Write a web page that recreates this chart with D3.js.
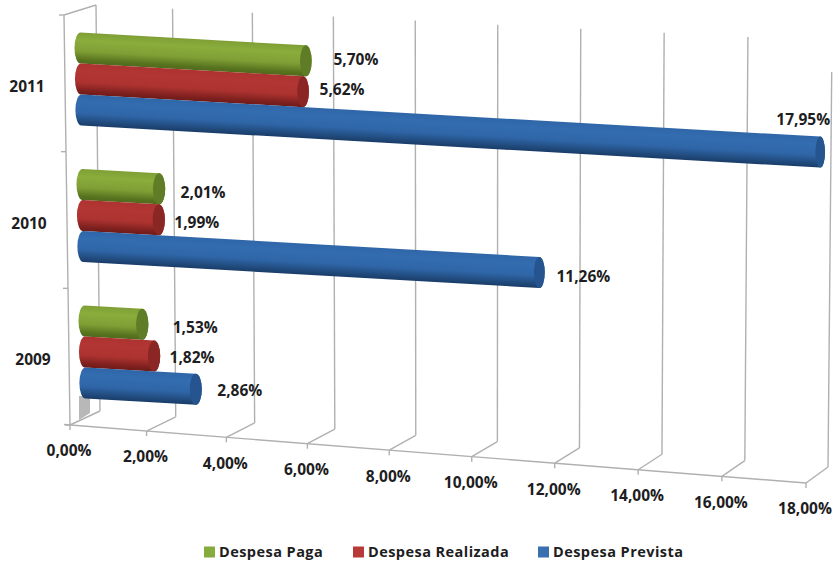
<!DOCTYPE html>
<html>
<head>
<meta charset="utf-8">
<script src="https://cdn.jsdelivr.net/npm/d3@7/dist/d3.min.js"></script>
<style>
html,body{margin:0;padding:0;background:#fff;}
svg{display:block;}
text{font-family:"Open Sans","Noto Sans",sans-serif;font-weight:700;fill:#1d1d22;}
</style>
</head>
<body>
<svg id="chart" width="833" height="562"></svg>
<script>
// Budget execution by year, as a pseudo-3D horizontal cylinder chart
const years = ["2011", "2010", "2009"];
const seriesNames = ["Despesa Paga", "Despesa Realizada", "Despesa Prevista"];
const despesaPaga = [5.70, 2.01, 1.53];
const despesaRealizada = [5.62, 1.99, 1.82];
const despesaPrevista = [17.95, 11.26, 2.86];
const axisTicks = [0, 2, 4, 6, 8, 10, 12, 14, 16, 18];

const seriesValues = [despesaPaga, despesaRealizada, despesaPrevista];
const brTicks = d3.format(".2f");
const pct = v => brTicks(v).replace(".", ",") + "%";

// Cylinder shading per series: light top, saturated body, dark underside, end cap
const palette = [
  {main: "#7f9f35", light: "#8aad3c", dark: "#58731f", edge: "#4f6a1c", cap: "#5f7c27", swatch: "#86ab3e"},
  {main: "#ad3330", light: "#b23634", dark: "#7d201e", edge: "#701a18", cap: "#8a2725", swatch: "#b83a38"},
  {main: "#2f66a8", light: "#336db0", dark: "#20497a", edge: "#193c68", cap: "#25548e", swatch: "#3a6fb0"}
];

const svg = d3.select("#chart");
const defs = svg.append("defs");

// The chart box is a slanted floor and wall; slight perspective widens the right side
const frontX = d3.scalePow().exponent(1.03).domain([0, 18]).range([70, 806]);
const backX = d3.scalePow().exponent(1.03).domain([0, 18]).range([100, 828]);
const topX = d3.scalePow().exponent(1.03).domain([0, 18]).range([96, 832]);
const frontY = d3.scaleLinear().domain([70, 806]).range([425, 483]);
const backY = d3.scaleLinear().domain([100, 828]).range([411, 467]);
const topY = d3.scaleLinear().domain([96, 832]).range([5, 41]);

// Bars run along a plane midway through the depth of the box
const barLength = d3.scalePow().exponent(1.035).domain([0, 18]).range([0, 741]);
const rowY = d3.scalePoint().domain(years).range([79, 352]);
const seriesOffset = d3.scalePoint().domain(seriesNames).range([-31, 31]);
const startX = d3.scaleLinear().domain([15, 425]).range([80, 86]);
const barSlope = 0.057;
const barRadius = 15.5;
const capRadius = d3.scaleLinear().domain([80, 820]).range([6.3, 4.8]);

const grid = svg.append("g").attr("fill", "none").attr("stroke", "#b0b0b0").attr("stroke-width", 1.4);

// Back gridlines and their floor segments
axisTicks.forEach(v => {
  const bx = backX(v), by = backY(bx);
  let tx = topX(v), ty = topY(tx);
  if (v === 18) { // the last gridline stops short near the top edge of the frame
    const t = (by - 72) / (by - ty);
    tx = bx + (tx - bx) * t;
    ty = 72;
  }
  grid.append("line").attr("x1", bx).attr("y1", by).attr("x2", tx).attr("y2", ty);
  const fx = frontX(v), fy = frontY(fx);
  grid.append("line").attr("x1", fx).attr("y1", fy).attr("x2", bx).attr("y2", by);
});

// Front floor edge
grid.append("line")
  .attr("x1", frontX(0) - 6).attr("y1", frontY(frontX(0)) - 0.5)
  .attr("x2", frontX(18)).attr("y2", frontY(frontX(18)));

// Left wall: front edge, its top corner and category tick marks
const wallY = d3.scaleLinear().domain([0, 3]).range([15, 425]);
const wallX = d3.scaleLinear().domain([15, 425]).range([64, 70]);
grid.append("line").attr("x1", wallX(15)).attr("y1", 15).attr("x2", wallX(425)).attr("y2", 425);
grid.append("line").attr("x1", wallX(15)).attr("y1", 15).attr("x2", topX(0)).attr("y2", topY(topX(0)));
d3.range(4).forEach(i => {
  const y = wallY(i);
  grid.append("line").attr("x1", wallX(y) - 5).attr("y1", y).attr("x2", wallX(y)).attr("y2", y);
});

// Grey sliver at the foot of the left wall
svg.append("path")
  .attr("d", "M79,396L90,396L90,413L79,420Z")
  .attr("fill", "#b8b8b8");

// Value axis: D3 builds the ticks, each one then follows the slanted floor edge
const axisGroup = svg.append("g");
axisGroup.call(d3.axisBottom(frontX).tickValues(axisTicks).tickFormat(pct).tickSize(5))
  .attr("font-size", null).attr("font-family", null);
axisGroup.select(".domain").remove();
axisGroup.selectAll(".tick")
  .attr("transform", d => `translate(${frontX(d)},${frontY(frontX(d))})`);
axisGroup.selectAll(".tick line").attr("stroke", "#b0b0b0").attr("stroke-width", 1.4);
axisGroup.selectAll(".tick text")
  .attr("x", -1).attr("y", 26).attr("dy", "0.35em")
  .style("font-size", "15.5px").style("fill", "#1d1d22");

// Category labels
svg.append("g").selectAll("text").data(years).join("text")
  .attr("x", (d, i) => 27 + [0, 2, 6][i])
  .attr("y", d => rowY(d) + 8)
  .attr("dy", "0.35em")
  .attr("text-anchor", "middle")
  .style("font-size", "15.5px")
  .text(d => d);

// Flatten to one record per bar, drawn top to bottom so lower cylinders overlap upper ones
const bars = [];
years.forEach((year, r) => {
  seriesNames.forEach((name, s) => {
    const y0 = rowY(year) + seriesOffset(name);
    const x0 = startX(y0);
    const value = seriesValues[s][r];
    const x1 = x0 + barLength(value);
    bars.push({year, name, s, value, x0, y0, x1, y1: y0 + (x1 - x0) * barSlope, id: `bar-${r}-${s}`});
  });
});

// Gradients run across the cylinder, perpendicular to its slope
const gradients = defs.selectAll("linearGradient").data(bars).join("linearGradient")
  .attr("id", d => d.id)
  .attr("gradientUnits", "userSpaceOnUse")
  .attr("x1", d => (d.x0 + d.x1) / 2 + barRadius * barSlope)
  .attr("y1", d => (d.y0 + d.y1) / 2 - barRadius)
  .attr("x2", d => (d.x0 + d.x1) / 2 - barRadius * barSlope)
  .attr("y2", d => (d.y0 + d.y1) / 2 + barRadius);
const gradientStops = d => [
  [0, palette[d.s].main], [0.25, palette[d.s].light], [0.6, palette[d.s].main],
  [0.88, palette[d.s].dark], [1, palette[d.s].edge]
];
gradients.selectAll("stop").data(gradientStops).join("stop")
  .attr("offset", d => d[0])
  .attr("stop-color", d => d[1]);

const cylinders = svg.append("g").selectAll("g").data(bars).join("g");
cylinders.append("path")
  .attr("fill", d => `url(#${d.id})`)
  .attr("d", d => {
    const r = barRadius, c0 = 6, c1 = capRadius(d.x1);
    return `M${d.x0},${d.y0 - r}L${d.x1},${d.y1 - r}` +
      `A${c1},${r} 0 0 1 ${d.x1},${d.y1 + r}` +
      `L${d.x0},${d.y0 + r}` +
      `A${c0},${r} 0 0 1 ${d.x0},${d.y0 - r}Z`;
  });
cylinders.append("ellipse")
  .attr("cx", d => d.x1).attr("cy", d => d.y1)
  .attr("rx", d => capRadius(d.x1)).attr("ry", barRadius)
  .attr("fill", d => palette[d.s].cap);

// Value labels sit beside each bar end, nudged away from neighbouring marks
const labelNudgeX = [50, 39, -17, 44, 38, 44, 53, 38, 44];
const labelNudgeY = [-1, -2, -33, 4, 3, 4, 3, 2, 1];
svg.append("g").selectAll("text").data(bars).join("text")
  .attr("x", (d, i) => d.x1 + labelNudgeX[i])
  .attr("y", (d, i) => d.y1 + labelNudgeY[i])
  .attr("dy", "0.35em")
  .attr("text-anchor", "middle")
  .style("font-size", "15.5px")
  .text(d => pct(d.value));

// Legend
const legendX = d3.scaleOrdinal().domain(seriesNames).range([204, 353, 538]);
const legend = svg.append("g").selectAll("g").data(seriesNames).join("g")
  .attr("transform", d => `translate(${legendX(d)},552)`);
legend.append("rect")
  .attr("x", 0).attr("y", -5.5).attr("width", 11).attr("height", 11)
  .attr("fill", (d, i) => palette[i].swatch);
legend.append("text")
  .attr("x", 15).attr("dy", "0.35em")
  .style("font-size", "14.5px")
  .style("letter-spacing", "0.45px")
  .text(d => d);
</script>
</body>
</html>
